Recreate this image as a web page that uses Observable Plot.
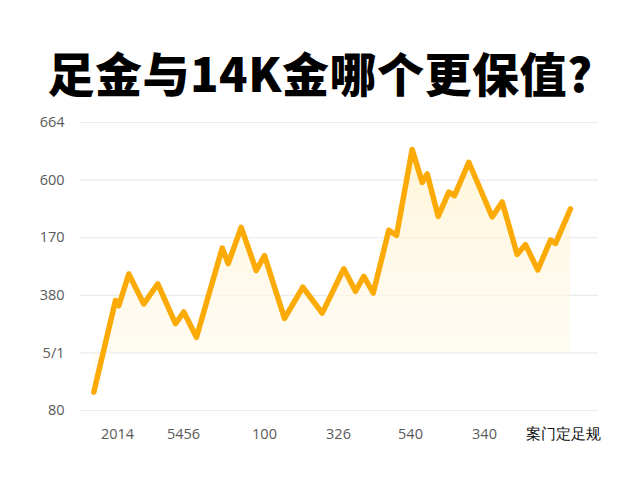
<!DOCTYPE html>
<html>
<head>
<meta charset="utf-8">
<script src="https://cdn.jsdelivr.net/npm/d3@7"></script>
<script src="https://cdn.jsdelivr.net/npm/@observablehq/plot@0.6"></script>
<style>
  html, body { margin: 0; padding: 0; background: #ffffff; width: 640px; height: 480px; overflow: hidden; }
  #title { height: 100px; box-sizing: border-box; padding-top: 45px; line-height: 60px; text-align: center;
    font-family: "Noto Sans CJK SC", "Noto Sans", sans-serif; font-weight: 900; font-size: 47px; color: #000; letter-spacing: 0.5px; }
  #title span { position: relative; top: -3px; }
</style>
</head>
<body>
<div id="title"><span>足金与14K金哪个更保值?</span></div>
<div id="chart"></div>
<script>
// Data (x: position along the time axis 0-100, y: level in gridline units)
const xs = [2.57, 6.76, 7.39, 9.32, 12.22, 14.92, 18.34, 19.94, 22.39, 27.36, 28.51, 31.02, 33.92, 35.52, 39.38, 42.92, 46.66, 50.83, 53.09, 54.69, 56.51, 59.52, 61.0, 64.03, 65.97, 66.93, 69.05, 71.1, 72.2, 74.96, 79.48, 81.41, 84.3, 85.9, 88.28, 90.73, 91.7, 94.59];
const ys = [0.32, 1.91, 1.82, 2.37, 1.85, 2.20, 1.51, 1.71, 1.27, 2.82, 2.55, 3.18, 2.43, 2.69, 1.60, 2.14, 1.69, 2.46, 2.07, 2.33, 2.04, 3.13, 3.04, 4.53, 3.96, 4.11, 3.37, 3.79, 3.73, 4.31, 3.36, 3.62, 2.71, 2.88, 2.44, 2.96, 2.90, 3.50];
const yTickLabels = ["80", "5/1", "380", "170", "600", "664"];
const xTickLabels = ["2014", "5456", "100", "326", "540", "340", "案门定足规"];
const xTickPos = [7.14, 19.88, 35.52, 49.81, 63.71, 77.99, 93.24];

const data = xs.map((x, i) => ({x, y: ys[i]}));
const yTicks = yTickLabels.map((_, i) => i);

const gradient = () => {
  const svg = d3.create("svg:defs");
  const g = svg.append("linearGradient").attr("id", "goldfill").attr("x1", 0).attr("x2", 0).attr("y1", 0).attr("y2", 1);
  g.append("stop").attr("offset", "0%").attr("stop-color", "#fff3cf").attr("stop-opacity", 0.8);
  g.append("stop").attr("offset", "100%").attr("stop-color", "#fffaf0").attr("stop-opacity", 0.5);
  return svg.node();
};

const chart = Plot.plot({
  width: 640,
  height: 380,
  marginTop: 22,
  marginBottom: 70,
  marginLeft: 80,
  marginRight: 42,
  style: { fontFamily: "'Open Sans', 'Noto Sans', sans-serif", fontSize: "14px", color: "#555", background: "transparent" },
  x: { domain: [0, 100], axis: null },
  y: { domain: [0, 5], axis: null },
  marks: [
    gradient,
    Plot.ruleY(yTicks, { stroke: "#ebebeb", strokeWidth: 1.2 }),
    Plot.areaY(data, { x: "x", y1: 1, y2: "y", fill: "url(#goldfill)" }),
    Plot.line(data, { x: "x", y: "y", stroke: "#FBAA06", strokeWidth: 5.5, strokeLinejoin: "round", strokeLinecap: "round" }),
    Plot.text(yTicks, { x: 0, y: d => d, text: d => yTickLabels[d], textAnchor: "end", dx: -16, fill: "#5a5a5a", fontSize: 14.5 }),
    Plot.text(xTickPos, { x: d => d, y: 0, text: (d, i) => xTickLabels[i], dy: 24, fill: (d, i) => i === xTickLabels.length - 1 ? "#111" : "#5a5a5a", fontSize: 14.5, fontFamily: (d, i) => i === xTickLabels.length - 1 ? "Noto Sans CJK SC" : "Open Sans" })
  ]
});
document.getElementById("chart").appendChild(chart);
</script>
</body>
</html>
